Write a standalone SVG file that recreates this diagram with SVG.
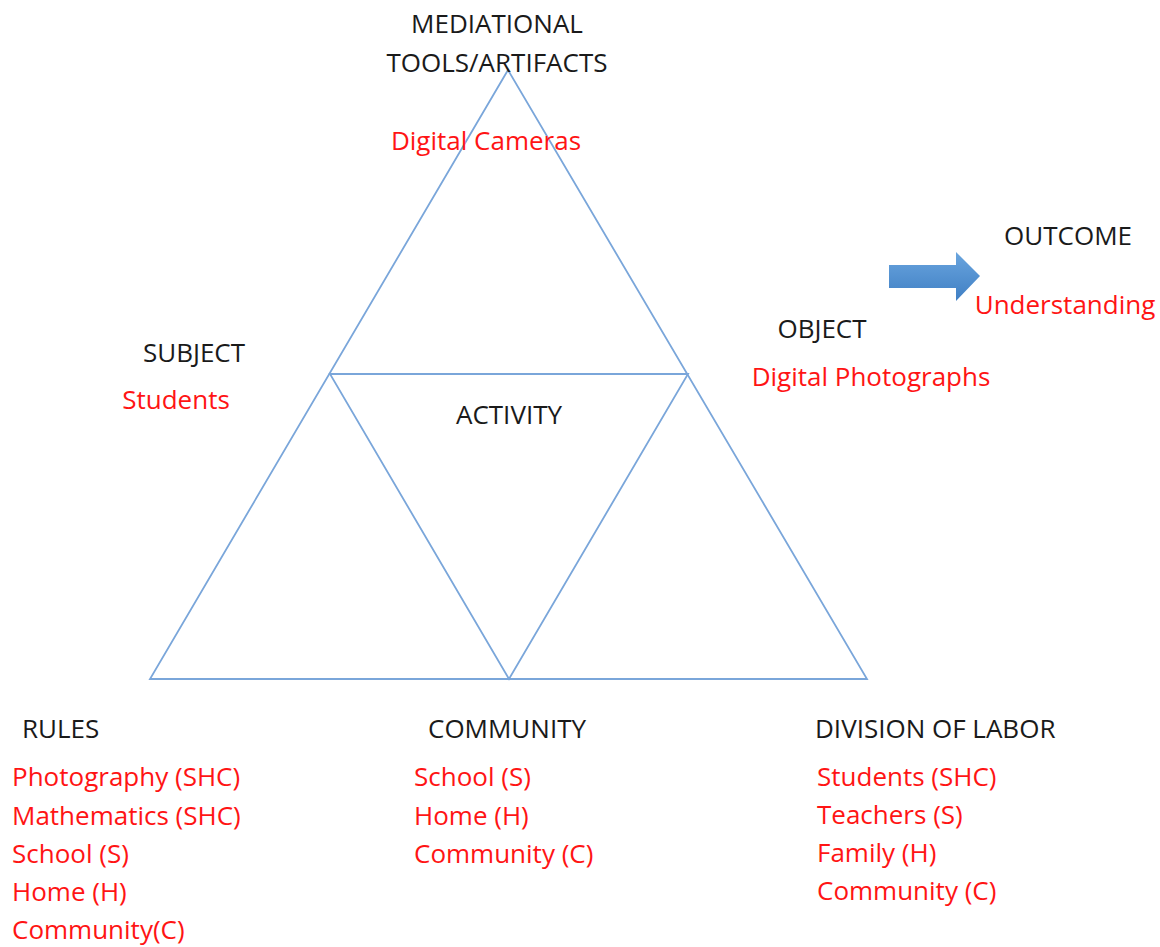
<svg xmlns="http://www.w3.org/2000/svg" width="1160" height="947" viewBox="0 0 1160 947">
  <defs>
    <linearGradient id="arrowFill" x1="0" y1="0" x2="0" y2="1">
      <stop offset="0" stop-color="#6aa5de"/>
      <stop offset="1" stop-color="#3f7fc4"/>
    </linearGradient>
    <style>
      text { font-family: "Open Sans", "Noto Sans", "Liberation Sans", sans-serif; font-size: 26px; }
      .label { fill: #1a1a1a; }
      .item { fill: #ff1414; }
      .edge { fill: none; stroke: #7aa6da; stroke-width: 1.8; stroke-linejoin: miter; }
    </style>
  </defs>
  <rect width="1160" height="947" fill="#ffffff"/>

  <!-- activity triangle and its inner subdivision -->
  <g id="connectors">
    <polygon class="edge" points="508,70 150,679 867,679"/>
    <polygon class="edge" points="330,374 688,374 509,679"/>
  </g>

  <!-- outcome arrow -->
  <g id="outcome-arrow">
    <polygon points="889,265 956,265 956,252 980,276 956,301 956,288 889,288" fill="url(#arrowFill)"/>
  </g>

  <g id="tools">
    <text class="label" x="497" y="33" text-anchor="middle">MEDIATIONAL</text>
    <text class="label" x="497" y="72" text-anchor="middle">TOOLS/ARTIFACTS</text>
    <text class="item" x="486" y="150" text-anchor="middle">Digital Cameras</text>
  </g>

  <g id="outcome">
    <text class="label" x="1068" y="245" text-anchor="middle">OUTCOME</text>
    <text class="item" x="1065" y="314" text-anchor="middle">Understanding</text>
  </g>

  <g id="object">
    <text class="label" x="822" y="338" text-anchor="middle">OBJECT</text>
    <text class="item" x="871" y="386" text-anchor="middle">Digital Photographs</text>
  </g>

  <g id="subject">
    <text class="label" x="194" y="362" text-anchor="middle">SUBJECT</text>
    <text class="item" x="176" y="409" text-anchor="middle">Students</text>
  </g>

  <g id="activity">
    <text class="label" x="509" y="424" text-anchor="middle">ACTIVITY</text>
  </g>

  <g id="rules">
    <text class="label" x="22" y="738">RULES</text>
    <text class="item" x="12" y="786">Photography (SHC)</text>
    <text class="item" x="12" y="825">Mathematics (SHC)</text>
    <text class="item" x="12" y="863">School (S)</text>
    <text class="item" x="12" y="901">Home (H)</text>
    <text class="item" x="12" y="939">Community(C)</text>
  </g>

  <g id="community">
    <text class="label" x="428" y="738">COMMUNITY</text>
    <text class="item" x="414" y="786">School (S)</text>
    <text class="item" x="414" y="825">Home (H)</text>
    <text class="item" x="414" y="863">Community (C)</text>
  </g>

  <g id="division-of-labor">
    <text class="label" x="815" y="738">DIVISION OF LABOR</text>
    <text class="item" x="817" y="786">Students (SHC)</text>
    <text class="item" x="817" y="824">Teachers (S)</text>
    <text class="item" x="817" y="862">Family (H)</text>
    <text class="item" x="817" y="900">Community (C)</text>
  </g>
</svg>
